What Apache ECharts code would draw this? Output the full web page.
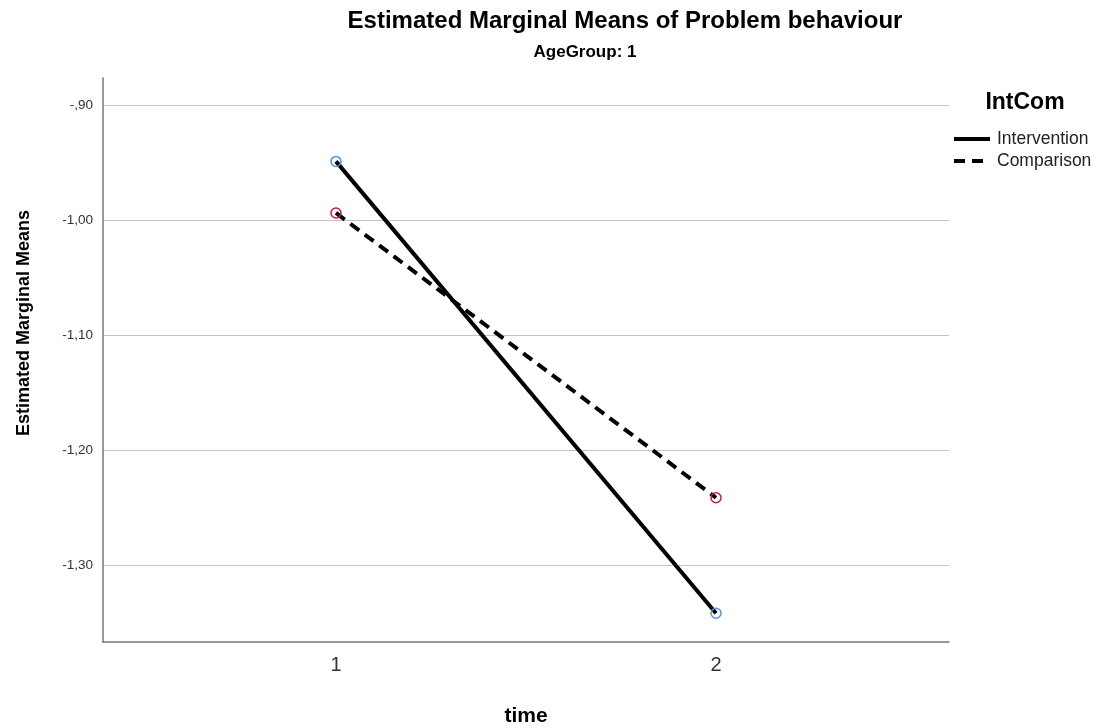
<!DOCTYPE html>
<html>
<head>
<meta charset="utf-8">
<script src="https://cdn.jsdelivr.net/npm/echarts@6/dist/echarts.min.js"></script>
<style>
html,body{margin:0;padding:0;background:#fff;}
#chart{width:1103px;height:728px;}
</style>
</head>
<body>
<div id="chart"></div>
<script>
const timeCategories = [1, 2];
const interventionValues = [-0.9486, -1.342];
const comparisonValues = [-0.9935, -1.2414];
const yTickValues = [-1.3, -1.2, -1.1, -1.0, -0.9];
const seriesNames = ['Intervention', 'Comparison'];

const FONT = "'Liberation Sans', Arial, sans-serif";

function fmtY(v) {
  let s = Math.abs(v).toFixed(2).replace('.', ',');
  if (s.startsWith('0')) s = s.slice(1);
  return (v < 0 ? '-' : '') + s;
}

const chart = echarts.init(document.getElementById('chart'), null, {renderer: 'canvas'});
chart.setOption({
  backgroundColor: '#ffffff',
  animation: false,
  textStyle: {fontFamily: FONT},
  graphic: [
    {type: 'text', x: 625, y: 21, style: {text: 'Estimated Marginal Means of Problem behaviour', font: "bold 24px " + FONT, fill: '#000', align: 'center', verticalAlign: 'middle'}},
    {type: 'text', x: 585, y: 52, style: {text: 'AgeGroup: 1', font: "bold 17px " + FONT, fill: '#000', align: 'center', verticalAlign: 'middle'}},
    {type: 'text', x: 1025, y: 103, style: {text: 'IntCom', font: "bold 23px " + FONT, fill: '#000', align: 'center', verticalAlign: 'middle'}},
    {type: 'text', x: 24, y: 323, rotation: Math.PI / 2, style: {text: 'Estimated Marginal Means', font: "bold 18px " + FONT, fill: '#000', align: 'center', verticalAlign: 'middle'}}
  ],
  legend: {
    orient: 'vertical',
    left: 952,
    top: 130,
    padding: 0,
    itemWidth: 36,
    itemHeight: 14,
    itemGap: 4,
    data: seriesNames,
    itemStyle: {color: 'transparent', borderColor: 'transparent', borderWidth: 0},
    lineStyle: {width: 4},
    textStyle: {fontSize: 17.5, color: '#222', fontFamily: FONT, padding: [0, 0, 0, 2]}
  },
  grid: {left: 103, right: 154, top: 78, bottom: 86, containLabel: false, outerBoundsMode: 'none'},
  xAxis: {
    type: 'value',
    min: 0.387,
    max: 2.613,
    name: 'time',
    nameLocation: 'middle',
    nameGap: 64,
    nameTextStyle: {fontSize: 21, fontWeight: 'bold', color: '#000', fontFamily: FONT},
    axisLine: {show: true, lineStyle: {color: '#777', width: 1.5}},
    axisTick: {show: false, customValues: timeCategories},
    axisLabel: {customValues: timeCategories, fontSize: 20, color: '#333', margin: 13, formatter: v => String(v)},
    splitLine: {show: false}
  },
  yAxis: {
    type: 'value',
    min: -1.367,
    max: -0.876,
    axisLine: {show: true, lineStyle: {color: '#777', width: 1.5}},
    axisTick: {show: false, customValues: yTickValues},
    axisLabel: {customValues: yTickValues, fontSize: 13.5, color: '#333', margin: 10, formatter: fmtY},
    splitLine: {show: true, lineStyle: {color: '#c4c4c4', width: 1.2}}
  },
  series: [
    {
      name: seriesNames[0],
      type: 'line',
      data: timeCategories.map((t, i) => [t, interventionValues[i]]),
      symbol: 'circle',
      symbolSize: 10,
      lineStyle: {color: '#000', width: 4, type: 'solid'},
      itemStyle: {color: 'rgba(255,255,255,0)', borderColor: '#5b8fd0', borderWidth: 1.5},
      z: 3
    },
    {
      name: seriesNames[1],
      type: 'line',
      data: timeCategories.map((t, i) => [t, comparisonValues[i]]),
      symbol: 'circle',
      symbolSize: 10,
      lineStyle: {color: '#000', width: 4, type: [11, 7]},
      itemStyle: {color: 'rgba(255,255,255,0)', borderColor: '#c8174a', borderWidth: 1.5},
      z: 3
    }
  ]
});
</script>
</body>
</html>
